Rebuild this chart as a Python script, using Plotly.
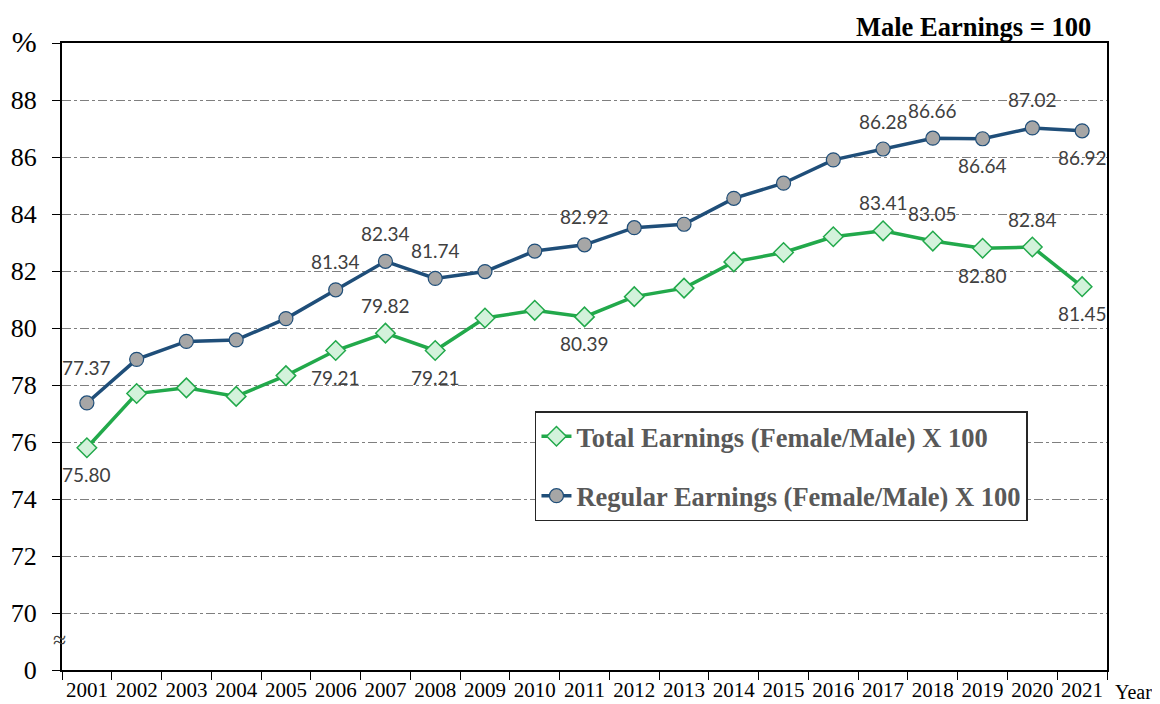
import plotly.graph_objects as go

# data
years = [str(y) for y in range(2001, 2022)]
total_earnings = [75.80, 77.70, 77.90, 77.60, 78.33, 79.21, 79.82, 79.21, 80.35, 80.62,
                  80.39, 81.10, 81.40, 82.32, 82.65, 83.20, 83.41, 83.05, 82.80, 82.84, 81.45]
regular_earnings = [77.37, 78.90, 79.53, 79.58, 80.33, 81.34, 82.34, 81.74, 81.98, 82.70,
                    82.92, 83.52, 83.64, 84.55, 85.08, 85.90, 86.28, 86.66, 86.64, 87.02, 86.92]

# which points get a value label, and on which side
total_labels = {'2001': 'below', '2006': 'below', '2007': 'above', '2008': 'below', '2011': 'below',
                '2017': 'above', '2018': 'above', '2019': 'below', '2020': 'above', '2021': 'below'}
regular_labels = {'2001': 'above', '2006': 'above', '2007': 'above', '2008': 'above', '2011': 'above',
                  '2017': 'above', '2018': 'above', '2019': 'below', '2020': 'above', '2021': 'below'}

y_ticks = [68, 70, 72, 74, 76, 78, 80, 82, 84, 86, 88, 90]
y_ticktext = ['0', '70', '72', '74', '76', '78', '80', '82', '84', '86', '88',
              '<span style="font-size:30px">%</span>']

GREEN = '#22a94b'
NAVY = '#1f4e79'
SERIF = 'Liberation Serif'

fig = go.Figure()
fig.add_trace(go.Scatter(
    x=years, y=total_earnings, mode='lines+markers',
    name='Total Earnings (Female/Male) X 100', legendgroup='total',
    line=dict(color=GREEN, width=3.5),
    marker=dict(symbol='diamond', size=15, color='#d3f2db', line=dict(color=GREEN, width=1.5))))
fig.add_trace(go.Scatter(
    x=years, y=regular_earnings, mode='lines+markers',
    name='Regular Earnings (Female/Male) X 100', legendgroup='regular',
    line=dict(color=NAVY, width=3.5),
    marker=dict(symbol='circle', size=14, color='#a6a6a6', line=dict(color=NAVY, width=1.2))))

# value labels (x given as category index so the axis range is not stretched)
for labels, values in ((total_labels, total_earnings), (regular_labels, regular_earnings)):
    for yr, side in labels.items():
        i = years.index(yr)
        shift = 28 if side == 'above' else -27
        if yr == '2001' and side == 'above':
            shift = 35
        fig.add_annotation(x=i, y=values[i], text=f'{values[i]:.2f}', showarrow=False,
                           yshift=shift, font=dict(family='Lato', size=19, color='#404040'))

fig.add_annotation(xref='paper', yref='paper', x=0.9866, y=0.998, xanchor='right', yanchor='bottom',
                   text='<b>Male Earnings = 100</b>', showarrow=False,
                   font=dict(family=SERIF, size=26.5, color='black'))
fig.add_annotation(xref='paper', yref='paper', x=1.0057, y=-0.035, xanchor='left', yanchor='middle',
                   text='Year', showarrow=False, font=dict(family=SERIF, size=20, color='black'))
# axis break mark
fig.add_annotation(xref='paper', yref='y', x=-0.002, y=69.05, xanchor='center', yanchor='middle',
                   text='≈', showarrow=False,
                   font=dict(family=SERIF, size=24, color='#404040'))

fig.update_xaxes(type='category', range=[-0.5, 20.5], showline=True, linecolor='black', linewidth=2,
                 mirror=True, ticks='outside', tickson='boundaries', ticklen=8, tickcolor='black',
                 tickangle=0, automargin=False, showgrid=False,
                 tickfont=dict(family=SERIF, size=21, color='black'))
fig.update_yaxes(range=[68, 90], tickvals=y_ticks, ticktext=y_ticktext,
                 showline=True, linecolor='black', linewidth=2, mirror=True,
                 ticks='outside', ticklen=8, tickcolor='black', ticklabelstandoff=10,
                 automargin=False,
                 showgrid=True, gridcolor='#7f7f7f', gridwidth=1, griddash='dashdot',
                 zeroline=False, tickfont=dict(family=SERIF, size=26, color='black'))

# the page body adds an 8px margin at top/left, so the figure is 8px smaller
fig.update_layout(
    width=1152, height=696,
    margin=dict(l=54, r=53, t=35, b=34),
    plot_bgcolor='white', paper_bgcolor='white',
    showlegend=True,
    legend=dict(x=0.4526, y=0.413, xanchor='left', yanchor='top',
                bgcolor='white', bordercolor='#262626', borderwidth=1.5,
                font=dict(family=SERIF, size=26.5, color='#595959', weight='bold'),
                tracegroupgap=22, itemwidth=30),
)
fig.write_html('out.html')
